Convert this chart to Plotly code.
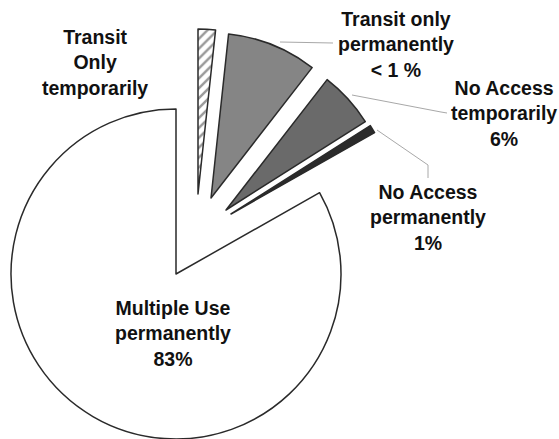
import plotly.graph_objects as go

# ---- data ----
labels = ["Transit Only temporarily", "Transit only permanently",
          "No Access temporarily", "No Access permanently",
          "Multiple Use permanently"]
values = [1.7, 8.8, 5.5, 0.8, 83.2]
label_texts = ["Transit<br>Only<br>temporarily",
               "Transit only<br>permanently<br>< 1 %",
               "No Access<br>temporarily<br>6%",
               "No Access<br>permanently<br>1%",
               "Multiple Use<br>permanently<br>83%"]

# ---- style ----
W, H = 559, 439
fills = ["#ffffff", "#858585", "#6a6a6a", "#2b2b2b", "#ffffff"]
patterns = ["/", "", "", "", ""]
R = 165
center = (176, 274)
# exploded offsets (pixels) of each slice's apex from the pie centre
offsets = [(22, -80), (35, -76), (50, -64), (55, -60), (0, 0)]
label_pos = [(95, 63), (396, 44), (504, 113), (428, 218), (173, 333)]
leaders = [
    [(280, 42), (333, 43)],
    [(352, 95), (441, 112), (447, 113)],
    [(377, 130), (428, 165), (428, 178)],
]

fig = go.Figure()
for i in range(len(values)):
    cx = center[0] + offsets[i][0]
    cy = center[1] + offsets[i][1]
    colors = ["rgba(0,0,0,0)"] * len(values)
    colors[i] = fills[i]
    widths = [0] * len(values)
    widths[i] = 1.5
    shapes_p = [""] * len(values)
    shapes_p[i] = patterns[i]
    fig.add_trace(go.Pie(
        labels=labels, values=values, sort=False, direction="clockwise",
        rotation=0, textinfo="none", hoverinfo="label+percent",
        showlegend=False,
        marker=dict(colors=colors,
                    line=dict(color="#2a2a2a", width=widths),
                    pattern=dict(shape=shapes_p, fgcolor="#9a9a9a",
                                 bgcolor="#ffffff", size=7, solidity=0.35)),
        domain=dict(x=[(cx - R) / W, (cx + R) / W],
                    y=[max(0, (H - cy - R) / H), min(1, (H - cy + R) / H)]),
    ))

def px(x, y):
    return x / W, 1 - y / H

shapes = []
for pts in leaders:
    for (x0, y0), (x1, y1) in zip(pts[:-1], pts[1:]):
        a, b = px(x0, y0)
        c, d = px(x1, y1)
        shapes.append(dict(type="line", xref="paper", yref="paper",
                           x0=a, y0=b, x1=c, y1=d,
                           line=dict(color="#a8a8a8", width=1)))

annotations = []
for t, (x, y) in zip(label_texts, label_pos):
    a, b = px(x, y)
    annotations.append(dict(text="<b>" + t + "</b>", x=a, y=b, xref="paper",
                            yref="paper", xanchor="center", yanchor="middle",
                            showarrow=False, align="center",
                            font=dict(family="Liberation Sans, Arial", size=19.5,
                                      color="#111111")))

fig.update_layout(width=W, height=H, autosize=False,
                  margin=dict(l=0, r=0, t=0, b=0),
                  paper_bgcolor="white", plot_bgcolor="white",
                  shapes=shapes, annotations=annotations)
fig.write_html("out.html",
               config={"displayModeBar": False},
               post_script="document.body.style.margin='0';"
                           "document.body.style.overflow='hidden';")
